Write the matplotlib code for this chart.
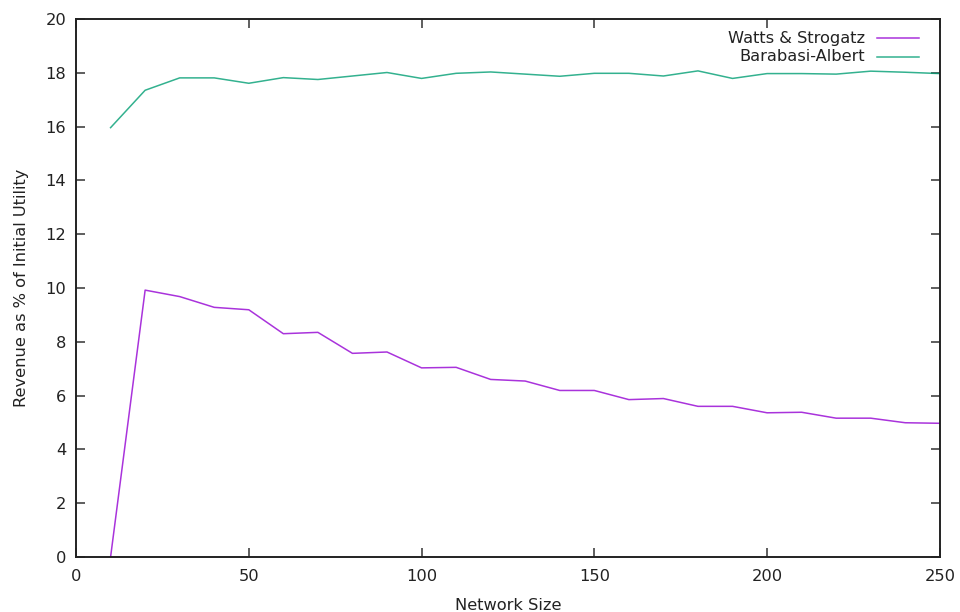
import matplotlib
matplotlib.use("Agg")
import matplotlib.pyplot as plt
from matplotlib.lines import Line2D

# network sizes and revenue (% of initial utility) per topology
network_size = [10, 20, 30, 40, 50, 60, 70, 80, 90, 100, 110, 120, 130,
                140, 150, 160, 170, 180, 190, 200, 210, 220, 230, 240, 250]
watts_strogatz = [0.0, 9.92, 9.68, 9.28, 9.19, 8.30, 8.35, 7.57, 7.62, 7.03,
                  7.05, 6.60, 6.54, 6.19, 6.19, 5.85, 5.89, 5.60, 5.60, 5.36,
                  5.38, 5.16, 5.16, 4.99, 4.97]
barabasi_albert = [15.96, 17.35, 17.81, 17.81, 17.61, 17.82, 17.75, 17.88,
                   18.01, 17.79, 17.98, 18.03, 17.95, 17.87, 17.98, 17.98,
                   17.88, 18.07, 17.79, 17.97, 17.97, 17.95, 18.06, 18.02,
                   17.97]
series_labels = ["Watts & Strogatz", "Barabasi-Albert"]
series_colors = ["#9400d3", "#009e73"]

x_ticks = [0, 50, 100, 150, 200, 250]
y_ticks = [0, 2, 4, 6, 8, 10, 12, 14, 16, 18, 20]

plt.rcParams["font.family"] = ["DejaVu Sans"]
plt.rcParams["font.size"] = 11.7

fig = plt.figure(figsize=(9.6, 6.12), dpi=100)
ax = fig.add_axes([0.0792, 0.0899, 0.8998, 0.8791])

for ys, color in zip([watts_strogatz, barabasi_albert], series_colors):
    ax.plot(network_size, ys, color=color, lw=1.1, alpha=0.8)

ax.set_xlim(0, 250)
ax.set_ylim(0, 20)
ax.set_xticks(x_ticks)
ax.set_yticks(y_ticks)
ax.tick_params(direction="in", length=6.5, width=1.1, color="#333333",
               top=True, right=True, labelcolor="#222222")
ax.tick_params(axis="x", pad=9)
ax.tick_params(axis="y", pad=7)
for sp in ax.spines.values():
    sp.set_linewidth(1.4)
    sp.set_color("#222222")

ax.set_xlabel("Network Size", labelpad=10, color="#222222")
ax.set_ylabel("Revenue as % of Initial Utility", labelpad=12, color="#222222")

# gnuplot-style key: right-aligned labels with the line sample on the right
key_y = [0.964, 0.930]
for label, color, ky in zip(series_labels, series_colors, key_y):
    ax.text(0.913, ky, label, transform=ax.transAxes, ha="right",
            va="center", color="#222222")
    ax.add_line(Line2D([0.927, 0.976], [ky, ky], transform=ax.transAxes,
                       color=color, lw=1.1, alpha=0.8))

fig.savefig("out.png", dpi=100)
